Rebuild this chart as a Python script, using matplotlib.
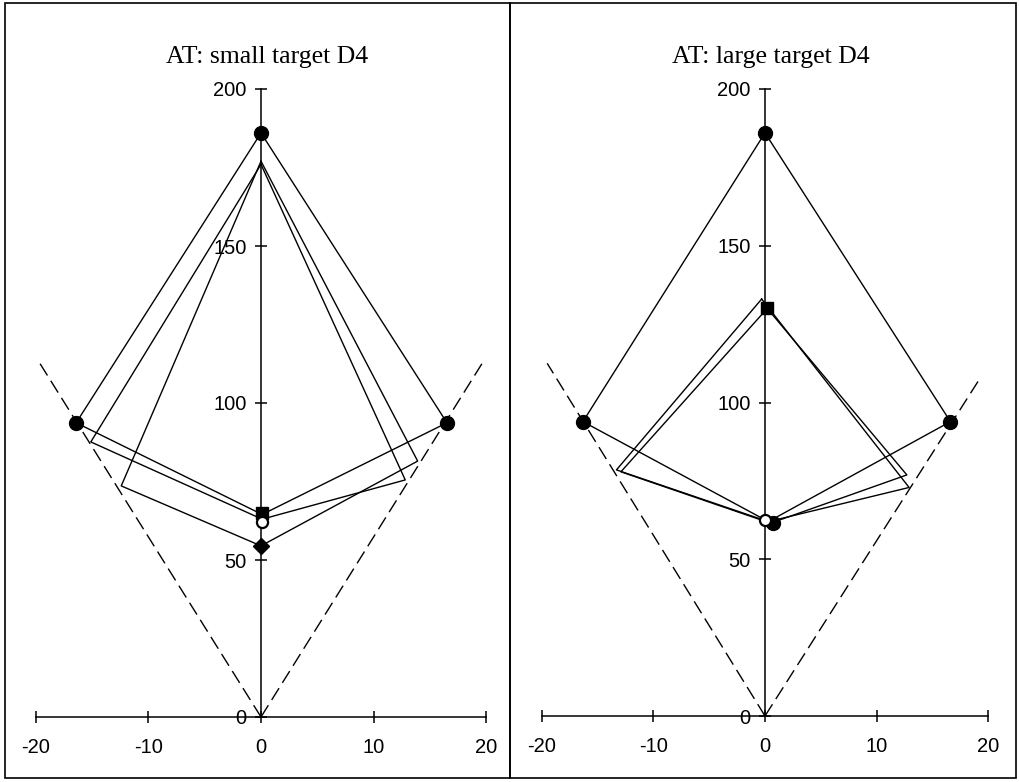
import matplotlib
matplotlib.use("Agg")
import matplotlib.pyplot as plt
from matplotlib.patches import Rectangle
import numpy as np

# ---------------- data ----------------
titles = ["AT: small target D4", "AT: large target D4"]
x_ticks = [-20, -10, 0, 10, 20]
y_ticks = [0, 50, 100, 150, 200]

# polygon vertices: top, right, bottom, left
# left panel (small target)
small_outer_x = [0.0, 16.5, 0.1, -16.4]
small_outer_y = [186.0, 93.7, 64.5, 93.7]
small_p1_x = [0.0, 13.9, 0.0, -12.4]
small_p1_y = [177.0, 81.5, 54.5, 73.6]
small_p2_x = [0.0, 12.8, 0.1, -15.1]
small_p2_y = [176.0, 75.5, 63.0, 87.6]
small_dash_x = [-19.6, 19.6]
small_dash_y = [112.5, 112.5]
small_fcirc_x = [0.0, 16.5, -16.4]
small_fcirc_y = [186.0, 93.7, 93.7]
small_square_x = [0.1]
small_square_y = [65.0]
small_ocirc_x = [0.1]
small_ocirc_y = [62.2]
small_diam_x = [0.0]
small_diam_y = [54.5]

# right panel (large target)
large_outer_x = [0.0, 16.6, 0.3, -16.3]
large_outer_y = [186.0, 93.9, 62.0, 93.9]
large_q1_x = [-0.3, 12.9, 0.3, -13.3]
large_q1_y = [133.0, 72.9, 62.0, 78.5]
large_q2_x = [0.2, 12.7, 0.5, -12.9]
large_q2_y = [130.0, 76.9, 61.5, 77.9]
large_dash_x = [-19.5, 19.3]
large_dash_y = [112.5, 108.0]
large_fcirc_x = [0.0, 16.6, -16.3, 0.7]
large_fcirc_y = [186.0, 93.9, 93.9, 61.7]
large_square_x = [0.2]
large_square_y = [130.0]
large_ocirc_x = [0.0]
large_ocirc_y = [62.5]
large_diam_x = []
large_diam_y = []

W, H = 1020, 782
fig = plt.figure(figsize=(W / 100, H / 100), dpi=100)
fig.patch.set_facecolor("white")

TICKFONT = ["Liberation Sans", "DejaVu Sans"]
TITLEFONT = ["Liberation Serif", "DejaVu Serif"]


def make_axes(px_left, px_right, x0px, xscale, y0px, yscale):
    py_bot, py_top = 775, 5
    ax = fig.add_axes([px_left / W, (H - py_bot) / H,
                       (px_right - px_left) / W, (py_bot - py_top) / H])
    ax.set_xlim((px_left - x0px) / xscale, (px_right - x0px) / xscale)
    ax.set_ylim((y0px - py_bot) / yscale, (y0px - py_top) / yscale)
    ax.patch.set_alpha(0)
    for s in ["top", "right"]:
        ax.spines[s].set_visible(False)
    ax.spines["left"].set_position(("data", 0))
    ax.spines["bottom"].set_position(("data", 0))
    ax.spines["left"].set_bounds(0, 200)
    ax.spines["bottom"].set_bounds(-20, 20)
    for s in ["left", "bottom"]:
        ax.spines[s].set_linewidth(1.1)
    ax.set_xticks(x_ticks)
    ax.set_yticks(y_ticks)
    ax.set_xticklabels([str(v) for v in x_ticks], family=TICKFONT, fontsize=14.5)
    ax.set_yticklabels([str(v) for v in y_ticks], family=TICKFONT, fontsize=14.5)
    ax.tick_params(axis="both", direction="inout", length=8.5, width=1.1)
    ax.tick_params(axis="x", pad=11)
    ax.tick_params(axis="y", pad=6)
    return ax


def closed(v):
    return list(v) + [v[0]]


def draw_panel(ax, title, polys, dash_x, dash_y, fc, sq, oc, dm):
    for px_, py_ in polys:
        ax.plot(closed(px_), closed(py_), color="k", lw=1.0, zorder=3)
    for dx, dy in zip(dash_x, dash_y):
        ax.plot([0, dx], [0, dy], color="k", lw=1.0, dashes=(10, 4.5), zorder=2)
    ax.plot(fc[0], fc[1], "o", color="k", ms=10, ls="none", zorder=5)
    ax.plot(sq[0], sq[1], "s", color="k", ms=8, ls="none", zorder=5)
    ax.plot(oc[0], oc[1], "o", mfc="white", mec="k", mew=1.6, ms=8, ls="none", zorder=6)
    if len(dm[0]):
        ax.plot(dm[0], dm[1], "D", color="k", ms=8, ls="none", zorder=5)
    ax.text(0.5, 208.3, title, ha="center", va="baseline",
            family=TITLEFONT, fontsize=18.5)


axL = make_axes(10, 505, 261, 11.27, 717, 3.14)
draw_panel(axL, titles[0],
           [(small_outer_x, small_outer_y), (small_p1_x, small_p1_y),
            (small_p2_x, small_p2_y)],
           small_dash_x, small_dash_y,
           (small_fcirc_x, small_fcirc_y), (small_square_x, small_square_y),
           (small_ocirc_x, small_ocirc_y), (small_diam_x, small_diam_y))

axR = make_axes(515, 1012, 765, 11.17, 716, 3.135)
draw_panel(axR, titles[1],
           [(large_outer_x, large_outer_y), (large_q1_x, large_q1_y),
            (large_q2_x, large_q2_y)],
           large_dash_x, large_dash_y,
           (large_fcirc_x, large_fcirc_y), (large_square_x, large_square_y),
           (large_ocirc_x, large_ocirc_y), (large_diam_x, large_diam_y))

# panel frames
for x0, x1 in [(5, 510), (510, 1016)]:
    fig.add_artist(Rectangle((x0 / W, (H - 778) / H), (x1 - x0) / W, 775 / H,
                             transform=fig.transFigure, fill=False,
                             lw=1.2, edgecolor="k"))

fig.savefig("out.png", dpi=100, facecolor="white")
